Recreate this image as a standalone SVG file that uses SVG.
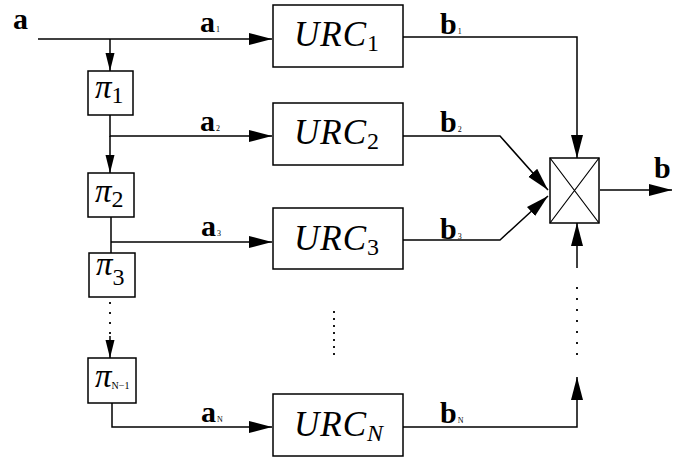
<svg xmlns="http://www.w3.org/2000/svg" width="697" height="460" viewBox="0 0 697 460">
<style>
.ln{fill:none;stroke:#000;stroke-width:1.5}
.box{fill:#fff;stroke:#000;stroke-width:1.5}
text{font-family:"Liberation Serif","Times New Roman",serif;fill:#000}
.bl{font-weight:bold;font-size:30px}
.sub{font-size:8px;font-weight:normal}
.urc{font-style:italic;font-size:35px;letter-spacing:1px}
.pi{font-style:italic;font-size:33px}
.num{font-style:normal;font-size:24px;letter-spacing:0}
.dot1{fill:none;stroke:#000;stroke-width:1.8;stroke-dasharray:2 8}
.dot2{fill:none;stroke:#000;stroke-width:1.8;stroke-dasharray:2 5}
.dot3{fill:none;stroke:#000;stroke-width:1.8;stroke-dasharray:2 9}
</style>
<defs>
<marker id="big" markerUnits="userSpaceOnUse" markerWidth="24" markerHeight="14" refX="23" refY="7" orient="auto" viewBox="0 0 24 14">
<path d="M0,1 L23,7 L0,13 Z" fill="#000"/>
</marker>
<marker id="sm" markerUnits="userSpaceOnUse" markerWidth="19" markerHeight="11" refX="18" refY="5.5" orient="auto" viewBox="0 0 19 11">
<path d="M0,1 L18,5.5 L0,10 Z" fill="#000"/>
</marker>
</defs>
<rect width="697" height="460" fill="#fff"/>
<g id="connectors">
<path class="ln" d="M38,39 H272" marker-end="url(#big)"/>
<path class="ln" d="M110,39 V71" marker-end="url(#sm)"/>
<path class="ln" d="M110,115 V136 H272" marker-end="url(#big)"/>
<path class="ln" d="M110,136 V173" marker-end="url(#sm)"/>
<path class="ln" d="M111,217 V253"/>
<path class="ln" d="M111,242 H272" marker-end="url(#big)"/>
<path class="dot1" d="M110,302 V336"/>
<path class="ln" d="M110,336 V358" marker-end="url(#sm)"/>
<path class="ln" d="M112,403 V427 H272" marker-end="url(#big)"/>
<path class="ln" d="M403,37 H577 V158" marker-end="url(#big)"/>
<path class="ln" d="M403,136 H500 L548,190" marker-end="url(#big)"/>
<path class="ln" d="M403,240 H500 L548,196" marker-end="url(#big)"/>
<path class="ln" d="M403,427 H577 V377" marker-end="url(#big)"/>
<path class="dot3" d="M577,287 V356"/>
<path class="ln" d="M577,268 V223" marker-end="url(#big)"/>
<path class="ln" d="M600,190 H672" marker-end="url(#big)"/>
<path class="dot2" d="M334,311 V359"/>
</g>
<g id="labels">
<text class="bl" x="13" y="29">a</text>
<text class="bl" x="200" y="32">a<tspan class="sub" dx="1">1</tspan></text>
<text class="bl" x="200" y="131">a<tspan class="sub" dx="1">2</tspan></text>
<text class="bl" x="201" y="236">a<tspan class="sub" dx="1">3</tspan></text>
<text class="bl" x="201" y="422">a<tspan class="sub" dx="1">N</tspan></text>
<text class="bl" x="440" y="34">b<tspan class="sub" dx="1">1</tspan></text>
<text class="bl" x="440" y="132">b<tspan class="sub" dx="1">2</tspan></text>
<text class="bl" x="440" y="239">b<tspan class="sub" dx="1">3</tspan></text>
<text class="bl" x="440" y="423">b<tspan class="sub" dx="1">N</tspan></text>
<text class="bl" x="654" y="178">b</text>
</g>
<g id="pi1">
<rect class="box" x="88" y="71" width="45" height="44"/>
<text class="pi" x="95" y="98">π<tspan class="num" dy="5">1</tspan></text>
</g>
<g id="pi2">
<rect class="box" x="88" y="173" width="46" height="44"/>
<text class="pi" x="95" y="202">π<tspan class="num" dy="5">2</tspan></text>
</g>
<g id="pi3">
<rect class="box" x="89" y="253" width="46" height="44"/>
<text class="pi" x="96" y="275">π<tspan class="num" dy="10">3</tspan></text>
</g>
<g id="piN1">
<rect class="box" x="88" y="358" width="48" height="45"/>
<text class="pi" x="95" y="387">π<tspan style="font-style:normal;font-size:10px" dy="2">N−1</tspan></text>
</g>
<g id="urc1">
<rect class="box" x="273" y="5" width="130" height="62"/>
<text class="urc" x="294" y="46">URC<tspan class="num" dy="5">1</tspan></text>
</g>
<g id="urc2">
<rect class="box" x="273" y="103" width="130" height="62"/>
<text class="urc" x="294" y="144">URC<tspan class="num" dy="5">2</tspan></text>
</g>
<g id="urc3">
<rect class="box" x="273" y="208" width="130" height="61"/>
<text class="urc" x="294" y="250">URC<tspan class="num" dy="5">3</tspan></text>
</g>
<g id="urcN">
<rect class="box" x="273" y="394" width="130" height="62"/>
<text class="urc" x="294" y="436">URC<tspan style="font-size:24px" dy="5">N</tspan></text>
</g>
<g id="mixer">
<rect class="box" x="550" y="158" width="49" height="65"/>
<path class="ln" d="M550,158 L599,223 M599,158 L550,223" style="stroke-width:1.2"/>
</g>
</svg>
